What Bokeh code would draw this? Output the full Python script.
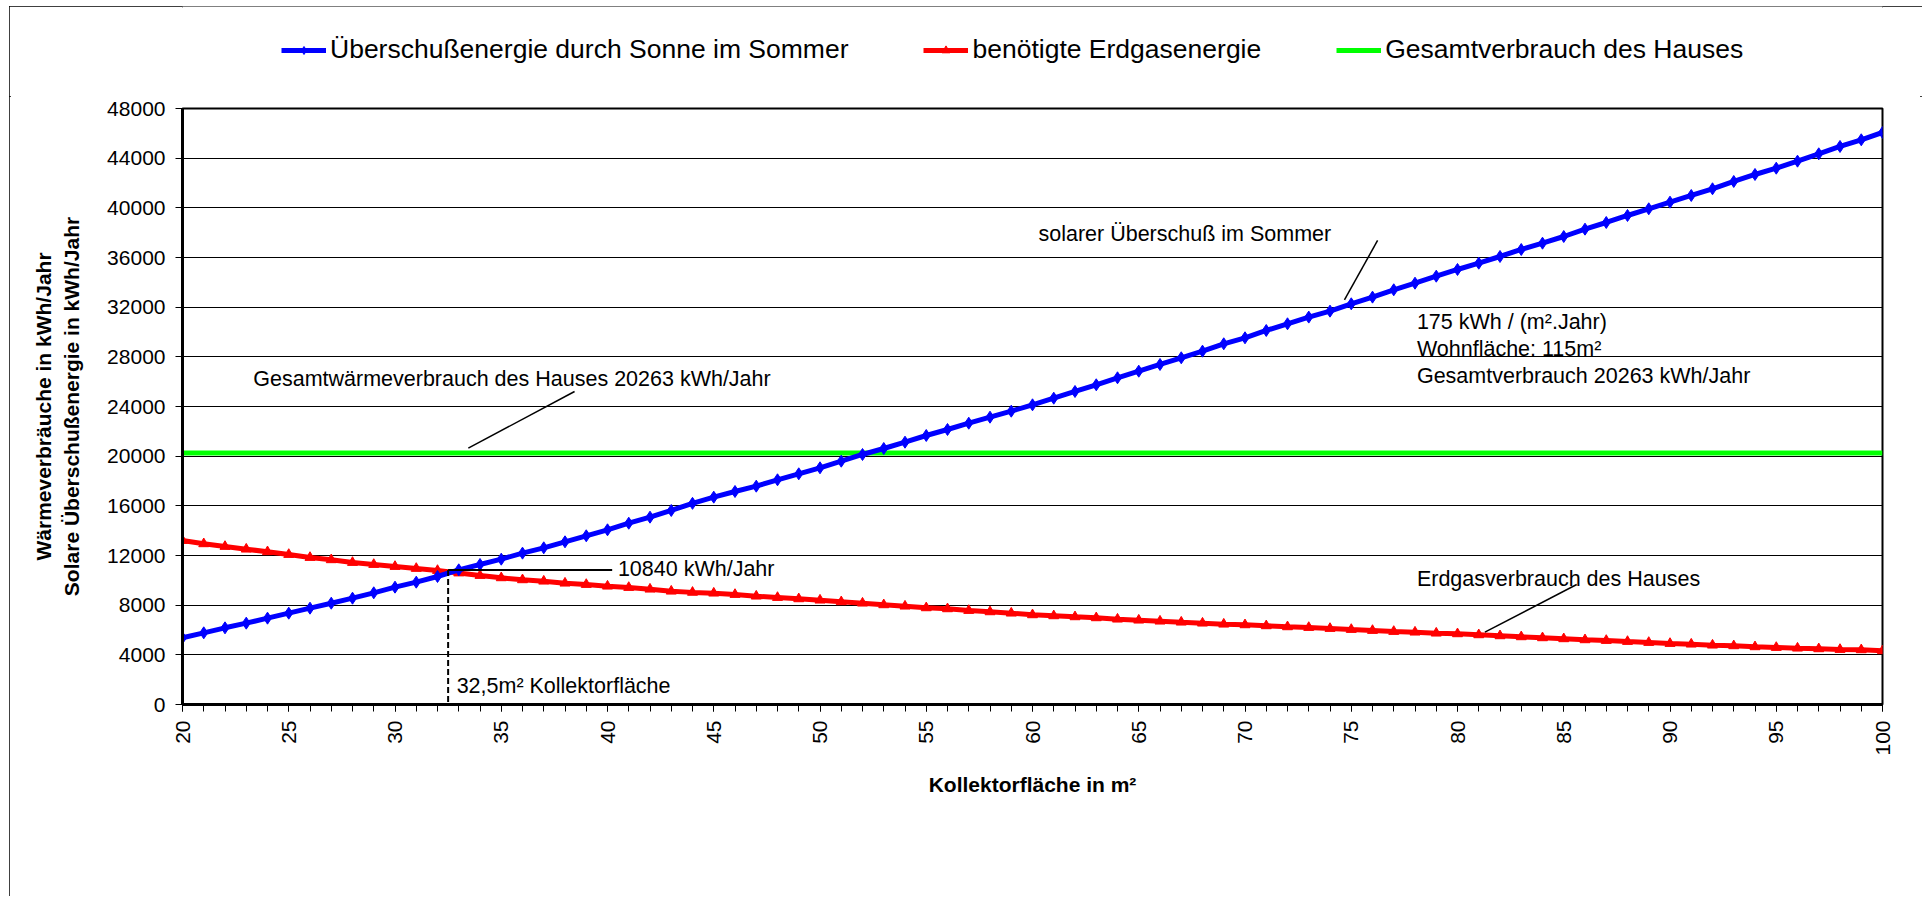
import numpy as np
from bokeh.plotting import figure
from bokeh.layouts import column
from bokeh.models import Range1d, FixedTicker, Legend, LegendItem, Label
from bokeh.embed import file_html
from bokeh.resources import INLINE

# ---------------- data ----------------
area = list(range(20, 101))  # Kollektorfläche in m²

solar_surplus = [
    5370, 5773, 6176, 6550, 6953, 7356, 7757, 8159, 8562, 8996,
    9450, 9852, 10309, 10846, 11276, 11705, 12189, 12620, 13103, 13587,
    14070, 14600, 15086, 15625, 16200, 16700, 17155, 17584, 18097, 18580,
    19063, 19596, 20135, 20618, 21127, 21665, 22148, 22656, 23140, 23623,
    24136, 24670, 25209, 25748, 26312, 26845, 27384, 27923, 28456, 29051,
    29534, 30122, 30661, 31200, 31680, 32271, 32808, 33400, 33932, 34496,
    35035, 35542, 36081, 36645, 37152, 37691, 38282, 38819, 39383, 39923,
    40456, 40995, 41535, 42123, 42686, 43194, 43758, 44351, 44941, 45480,
    46068,
]

gas_needed = [
    13208, 12942, 12726, 12510, 12298, 12081, 11839, 11654, 11437, 11276,
    11115, 10954, 10792, 10590, 10390, 10202, 10041, 9931, 9771, 9665,
    9529, 9423, 9287, 9125, 9030, 8966, 8859, 8725, 8618, 8510,
    8403, 8269, 8161, 8027, 7919, 7785, 7704, 7570, 7463, 7355,
    7221, 7141, 7060, 6980, 6872, 6792, 6711, 6630, 6550, 6469,
    6416, 6336, 6255, 6200, 6121, 6040, 5960, 5880, 5826, 5745,
    5692, 5612, 5531, 5450, 5370, 5290, 5209, 5155, 5074, 4994,
    4913, 4859, 4779, 4725, 4645, 4591, 4537, 4484, 4430, 4403,
    4323,
]

total_value = 20263
total_consumption = [total_value] * len(area)

x_labels = [20, 25, 30, 35, 40, 45, 50, 55, 60, 65, 70, 75, 80, 85, 90, 95, 100]
y_ticks = [0, 4000, 8000, 12000, 16000, 20000, 24000, 28000, 32000, 36000, 40000, 44000, 48000]

series_names = ["Überschußenergie durch Sonne im Sommer", "benötigte Erdgasenergie",
                "Gesamtverbrauch des Hauses"]
y_title_lines = ["Wärmeverbräuche in kWh/Jahr", "Solare Überschußenergie in kWh/Jahr"]

# annotation anchors (data coordinates)
crossing_x = 32.5
crossing_y = 10840

FONT = "Liberation Sans"
ANN = "21.5px"
W = 1913
TOP_H = 90

BLUE, RED, GREEN = "#0000FF", "#FF0000", "#00FF00"

# ---------------- main chart ----------------
p = figure(width=W, height=800,
           x_range=Range1d(20, 100), y_range=Range1d(0, 48000),
           output_backend="svg", toolbar_location=None,
           min_border_left=173, min_border_right=40,
           min_border_top=12, min_border_bottom=192)
p.background_fill_color = "white"
p.border_fill_color = "white"
p.outline_line_color = "black"
p.outline_line_width = 2

# grid
p.xgrid.visible = False
p.ygrid.ticker = FixedTicker(ticks=y_ticks)
p.ygrid.grid_line_color = "black"
p.ygrid.grid_line_width = 1

# axes
p.yaxis.ticker = FixedTicker(ticks=y_ticks)
p.yaxis.axis_line_width = 3
p.yaxis.axis_line_color = "black"
p.yaxis.major_tick_in = 0
p.yaxis.major_tick_out = 7
p.yaxis.major_tick_line_width = 1
p.yaxis.minor_tick_line_color = None
p.yaxis.major_label_standoff = 10
p.yaxis.major_label_text_font = FONT
p.yaxis.major_label_text_font_size = "21px"
p.yaxis.major_label_text_color = "black"
p.yaxis.axis_label = "\n".join(y_title_lines)
p.yaxis.axis_label_text_font = FONT
p.yaxis.axis_label_text_font_style = "bold"
p.yaxis.axis_label_text_font_size = "21px"
p.yaxis.axis_label_text_color = "black"
p.yaxis.axis_label_standoff = 21

p.xaxis.ticker = FixedTicker(ticks=x_labels, minor_ticks=area)
p.xaxis.axis_line_width = 3
p.xaxis.axis_line_color = "black"
p.xaxis.major_tick_in = 0
p.xaxis.major_tick_out = 7
p.xaxis.minor_tick_in = 0
p.xaxis.minor_tick_out = 7
p.xaxis.major_tick_line_width = 1
p.xaxis.minor_tick_line_width = 1
p.xaxis.minor_tick_line_color = "black"
p.xaxis.major_label_orientation = np.pi / 2
p.xaxis.major_label_standoff = 9
p.xaxis.major_label_text_font = FONT
p.xaxis.major_label_text_font_size = "21px"
p.xaxis.major_label_text_color = "black"
p.xaxis.axis_label = "Kollektorfläche in m²"
p.xaxis.axis_label_text_font = FONT
p.xaxis.axis_label_text_font_style = "bold"
p.xaxis.axis_label_text_font_size = "21px"
p.xaxis.axis_label_text_color = "black"
p.xaxis.axis_label_standoff = 14

# series
p.line(area, total_consumption, line_color=GREEN, line_width=5)
p.line(area, gas_needed, line_color=RED, line_width=5)
p.scatter(area, gas_needed, marker="triangle", size=10, fill_color=RED, line_color=RED)
p.line(area, solar_surplus, line_color=BLUE, line_width=5)
p.scatter(area, solar_surplus, marker="diamond", size=12, fill_color=BLUE, line_color=BLUE)

# annotation lines
p.line([crossing_x, crossing_x], [crossing_y, 0], line_color="black",
       line_width=2, line_dash="6 3")
p.line([crossing_x, 40.22], [crossing_y, crossing_y], line_color="black", line_width=2)
p.line([76.24, 74.68], [37370, 32594], line_color="black", line_width=1.5)
p.line([38.45, 33.45], [25209, 20642], line_color="black", line_width=1.5)
p.line([85.61, 81.29], [9665, 5823], line_color="black", line_width=1.5)

def lab(x, y, t):
    p.add_layout(Label(x=x, y=y, text=t, text_font=FONT, text_font_size=ANN,
                       text_color="black", text_baseline="middle", text_align="left"))

lab(60.28, 37854, "solarer Überschuß im Sommer")
lab(78.09, 30790, "175 kWh / (m².Jahr)")
lab(78.09, 28648, "Wohnfläche: 115m²")
lab(78.09, 26417, "Gesamtverbrauch 20263 kWh/Jahr")
lab(23.33, 26232, "Gesamtwärmeverbrauch des Hauses 20263 kWh/Jahr")
lab(40.49, 10900, "10840 kWh/Jahr")
lab(32.9, 1450, "32,5m² Kollektorfläche")
lab(78.09, 10124, "Erdgasverbrauch des Hauses")

# ---------------- legend strip above the chart ----------------
top = figure(width=W, height=TOP_H, x_range=Range1d(0, W), y_range=Range1d(0, TOP_H),
             output_backend="svg", toolbar_location=None, min_border=0,
             x_axis_location=None, y_axis_location=None)
top.xgrid.visible = False
top.ygrid.visible = False
top.outline_line_color = None
top.background_fill_color = "white"
top.border_fill_color = "white"

# same series styles; their values lie outside this strip's range, so only
# the legend samples are visible
lb = top.line(area, solar_surplus, line_color=BLUE, line_width=5)
sb = top.scatter(area, solar_surplus, marker="diamond", size=12, fill_color=BLUE, line_color=BLUE)
lr = top.line(area, gas_needed, line_color=RED, line_width=5)
sr = top.scatter(area, gas_needed, marker="triangle", size=10, fill_color=RED, line_color=RED)
lg = top.line(area, total_consumption, line_color=GREEN, line_width=5)

legend = Legend(items=[
    LegendItem(label=series_names[0], renderers=[lb, sb]),
    LegendItem(label=series_names[1], renderers=[lr, sr]),
    LegendItem(label=series_names[2], renderers=[lg]),
], orientation="horizontal", location=(99, 31),
    label_text_font=FONT, label_text_font_size="26.5px", label_text_color="black",
    glyph_width=45, glyph_height=20, spacing=75, label_standoff=4,
    padding=0, margin=0, border_line_color=None, background_fill_alpha=0)
top.add_layout(legend)

layout = column(top, p, spacing=0)
layout.margin = (6, 0, 0, 9)
layout.styles = {"outline": "2px solid black", "outline-offset": "-2px"}

open("out.html", "w").write(file_html(layout, INLINE))
